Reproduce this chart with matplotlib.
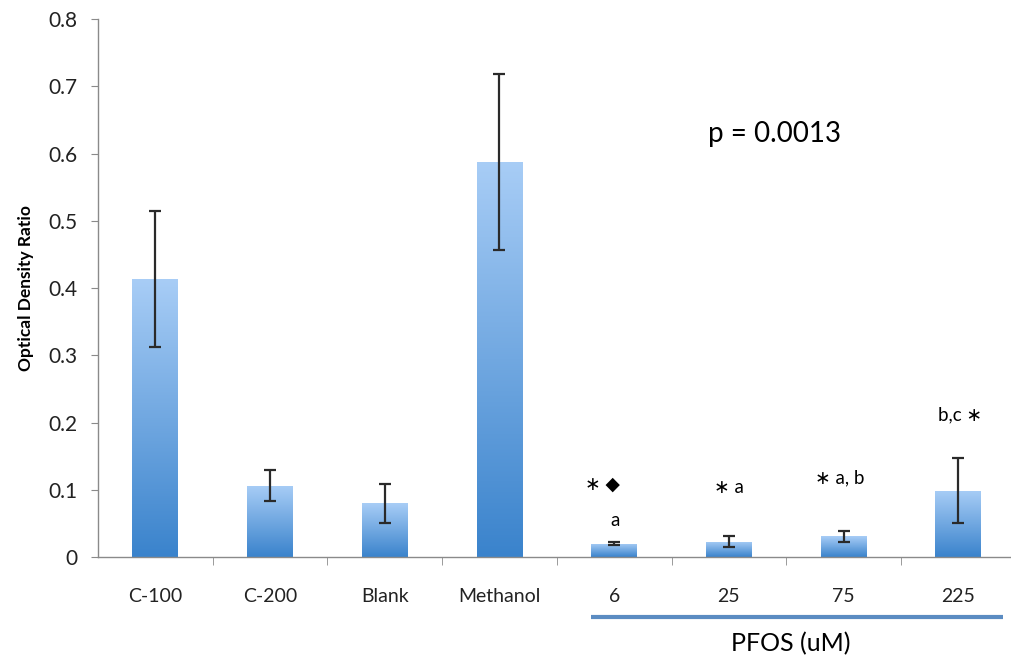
import numpy as np
import matplotlib
matplotlib.use('Agg')
from matplotlib import pyplot as plt
from matplotlib.colors import LinearSegmentedColormap
import matplotlib.transforms as mtransforms

plt.rcParams['font.family'] = ['Lato', 'DejaVu Sans']

groups = ['C-100', 'C-200', 'Blank', 'Methanol', '6', '25', '75', '225']
values = [0.413, 0.106, 0.080, 0.588, 0.020, 0.023, 0.031, 0.099]
errors = [0.101, 0.023, 0.029, 0.131, 0.002, 0.008, 0.008, 0.048]

# significance marks above PFOS bars: (x, y, text)
marks = [(3.90, 0.109, '\u2217 \u25c6'), (4.01, 0.055, 'a'), (5.0, 0.104, '\u2217 a'),
         (5.97, 0.118, '\u2217 a, b'), (7.02, 0.211, 'b,c \u2217')]

fig = plt.figure(figsize=(10.11, 6.57), dpi=100)
ax = fig.add_axes([0.097, 0.152, 0.903, 0.819])

x = np.arange(len(groups))
width = 0.4
bars = ax.bar(x, values, width, color='none', edgecolor='none', zorder=2)

cmap = LinearSegmentedColormap.from_list('bl', ['#3a83cc', '#a8cdf6'])
grad = np.linspace(0, 1, 256).reshape(-1, 1)
for b in bars:
    x0, y0 = b.get_x(), b.get_y()
    im = ax.imshow(grad, cmap=cmap, origin='lower', aspect='auto',
                   extent=[x0, x0 + b.get_width(), y0, y0 + b.get_height()], zorder=2)
    im.set_clip_path(b)

ax.errorbar(x, values, yerr=errors, fmt='none', ecolor='#2a2a2a', elinewidth=1.6,
            capsize=4, capthick=1.6, zorder=3)

ax.set_xlim(-0.5, 7.46)
ax.set_ylim(0, 0.8)
ax.set_yticks(np.arange(0, 0.81, 0.1))
ax.set_yticklabels(['0'] + ['%.1f' % v for v in np.arange(0.1, 0.81, 0.1)], fontsize=15,
                   color='#222222')
ax.set_xticks(x)
ax.set_xticklabels(groups, fontsize=14, color='#222222')
ax.tick_params(axis='x', length=0, pad=22)
ax.set_xticks(np.arange(0.5, 7.5, 1), minor=True)
ax.tick_params(axis='x', which='minor', length=6, direction='out', color='#8a8a8a')
ax.tick_params(axis='y', length=5, direction='out', color='#8a8a8a', pad=10)

for s in ['top', 'right']:
    ax.spines[s].set_visible(False)
for s in ['left', 'bottom']:
    ax.spines[s].set_color('#8a8a8a')
    ax.spines[s].set_linewidth(1.0)

ax.set_ylabel('Optical Density Ratio', fontsize=12.5, fontweight='bold', labelpad=10)

ax.text(5.40, 0.629, 'p = 0.0013', fontsize=20, ha='center', va='center')

for xx, yy, t in marks:
    ax.text(xx, yy, t, fontsize=13.5, ha='center', va='center')

trans = mtransforms.blended_transform_factory(ax.transData, ax.transAxes)
ax.plot([3.80, 7.39], [-0.1115, -0.1115], transform=trans, color='#5b8cc2',
        linewidth=3, clip_on=False, solid_capstyle='butt')
ax.text(5.54, -0.161, 'PFOS (uM)', transform=trans, fontsize=18,
        ha='center', va='center')

fig.savefig('out.png', dpi=100)
